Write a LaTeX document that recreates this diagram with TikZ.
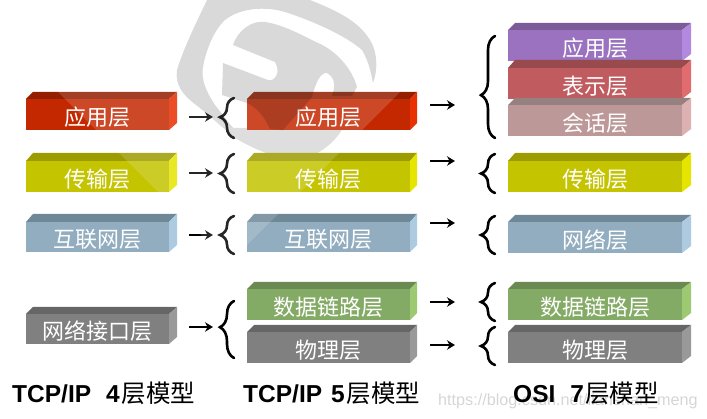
\documentclass[tikz,border=0pt]{standalone}
\usepackage{fontspec}
\setmainfont{Liberation Sans}
\newfontfamily\cjk{Noto Sans CJK SC}
\usetikzlibrary{arrows.meta,decorations.pathreplacing}
\definecolor{rF}{HTML}{C42800}\definecolor{rT}{HTML}{931E00}\definecolor{rS}{HTML}{E83000}
\definecolor{yF}{HTML}{C4C400}\definecolor{yT}{HTML}{9C9C00}\definecolor{yS}{HTML}{E5E500}
\definecolor{bF}{HTML}{92ADBF}\definecolor{bT}{HTML}{6F8898}\definecolor{bS}{HTML}{ACCBE0}
\definecolor{gF}{HTML}{808080}\definecolor{gT}{HTML}{666666}\definecolor{gS}{HTML}{999999}
\definecolor{nF}{HTML}{84AB65}\definecolor{nT}{HTML}{6A8A52}\definecolor{nS}{HTML}{9CC972}
\definecolor{pF}{HTML}{9A72BF}\definecolor{pT}{HTML}{7B5B98}\definecolor{pS}{HTML}{B388DF}
\definecolor{oF}{HTML}{C05C60}\definecolor{oT}{HTML}{994A4D}\definecolor{oS}{HTML}{E06C70}
\definecolor{kF}{HTML}{BD9899}\definecolor{kT}{HTML}{978080}\definecolor{kS}{HTML}{DDB1B2}
\definecolor{wmgrey}{HTML}{D9D9D9}
% #1 left #2 front right #3 right #4 top #5 front top #6 bottom #7 colour key #8 node name #9 text
\newcommand{\layerbox}[9]{%
  \fill[#7F] (#1,#5) rectangle (#2,#6);
  \fill[#7T] (#1,#5) -- (#1+7,#4) -- (#3,#4) -- (#2,#5) -- cycle;
  \fill[#7S] (#2,#5) -- (#3,#4) -- (#3,#6-7) -- (#2,#6) -- cycle;
  \coordinate (#8) at ({(#1+#2)/2},{(#5+#6)/2+2.5});
  \node[layertext] (#8t) at (#8) {#9};
}
\tikzset{
  layertext/.style={text=white,font=\cjk\fontsize{22}{22}\selectfont,inner sep=0pt},
  caption/.style={anchor=west,inner sep=0pt,font=\fontsize{24.5}{25}\selectfont},
  flowarrow/.style={line width=2.6pt,-{Stealth[length=8pt,width=9.5pt]}},
  bracket/.style={line width=2.6pt,line cap=round,decorate,decoration={brace,amplitude=14pt,aspect=#1}},
  bracket/.default=0.5
}
\begin{document}
\begin{tikzpicture}[x=1pt,y=-1pt]
\useasboundingbox (0,0) rectangle (707,419);
% lower band of the logo, on the white ground
\fill[wmgrey] (200,108) -- (233,128) -- (343,128)
   .. controls (335,142) and (320,155) .. (300,160)
   .. controls (280,160) and (255,150) .. (235,138) -- cycle;
% url mark
\node[anchor=west,inner sep=0pt,text=black!16,font=\fontsize{16.2}{16}\selectfont] (url) at (438,401) {https://blog.csdn.net/lianshan\_meng};
% column 1
\layerbox{26}{169}{177}{92}{99}{130}{r}{a1}{应用层}
\layerbox{26}{169}{177}{153}{161}{192}{y}{a2}{传输层}
\layerbox{26}{169}{177}{214}{222}{252}{b}{a3}{互联网层}
\layerbox{26}{169}{177}{307}{314}{344}{g}{a4}{网络接口层}
% column 2
\layerbox{247}{410}{417}{92}{99}{130}{r}{b1}{应用层}
\layerbox{247}{410}{417}{153}{161}{192}{y}{b2}{传输层}
\layerbox{247}{410}{417}{214}{222}{252}{b}{b3}{互联网层}
\layerbox{247}{410}{417}{282}{289}{320}{n}{b4}{数据链路层}
\layerbox{247}{410}{417}{325}{332}{363}{g}{b5}{物理层}
% column 3
\layerbox{508}{682}{691}{23}{30}{61}{p}{c1}{应用层}
\layerbox{508}{682}{691}{60}{68}{99}{o}{c2}{表示层}
\layerbox{508}{682}{691}{98}{105}{136}{k}{c3}{会话层}
\layerbox{508}{682}{691}{153}{161}{192}{y}{c4}{传输层}
\layerbox{508}{682}{691}{215}{222}{253}{b}{c5}{网络层}
\layerbox{508}{682}{691}{282}{289}{320}{n}{c6}{数据链路层}
\layerbox{508}{682}{691}{325}{332}{363}{g}{c7}{物理层}
% arrows
\foreach \n/\xa/\xb/\y in {p/189/213/117,q/189/213/173,r/189/213/235,s/189/213/327,
   t/430/455/105,u/430/455/161,v/430/455/223,w/430/455/302,z/430/455/345}{
  \coordinate (\n a) at (\xa,\y);
  \coordinate (\n b) at (\xb,\y);
  \draw[flowarrow] (\n a) -- (\n b);
}
% braces (drawn bottom to top, so the tip points left)
\foreach \n/\x/\yb/\yt/\asp in {d/234/138/98/0.52,e/234/193/154/0.5,f/234/254/216/0.5,g/234/358/301/0.54,
   h/495/138/36/0.42,i/495/193/154/0.5,j/495/254/216/0.5,k/495/321/283/0.5,l/495/365/327/0.5}{
  \coordinate (\n a) at (\x,\yb);
  \coordinate (\n b) at (\x,\yt);
  \draw[bracket=\asp] (\n a) -- (\n b);
}
% captions
\node[caption] (cap1) at (12,393) {\textbf{TCP/IP\hspace{15pt}4}\hspace{2pt}{\cjk 层模型}};
\node[caption] (cap2) at (243,393) {\textbf{TCP/IP\hspace{9pt}5}\hspace{2pt}{\cjk 层模型}};
\node[caption] (cap3) at (513,393) {\textbf{OSI\hspace{15pt}7}\hspace{1pt}{\cjk 层模型}};
% translucent sheen and logo mark laid over the whole picture
\begin{scope}
\clip (0,0) rectangle (707,419);
\fill[white,opacity=0.15] (229,263) -- (492,0) -- (-34,0) -- cycle;
% outer band, top and left
\fill[black,opacity=0.15] (305,-2) -- (208,-2) .. controls (195,25) and (183,50) .. (177,70)
   .. controls (175,85) and (182,95) .. (200,108)
   -- (233,128) -- (215,105)
   .. controls (205,90) and (201,78) .. (203,67)
   .. controls (206,50) and (214,30) .. (225,20)
   .. controls (240,8) and (265,6) .. (285,12)
   .. controls (310,20) and (345,35) .. (362,50)
   .. controls (368,60) and (371,72) .. (373,83)
   .. controls (378,70) and (378,50) .. (368,37)
   .. controls (355,18) and (330,8) .. (305,-2) -- cycle;
% inner body
\fill[black,opacity=0.15] (233,45) .. controls (238,30) and (252,20) .. (265,22)
   .. controls (285,25) and (305,37) .. (318,43)
   .. controls (335,50) and (352,68) .. (357,87)
   -- (352,96) -- (332,96)
   .. controls (335,88) and (336,78) .. (327,73)
   .. controls (320,72) and (315,85) .. (312,97)
   -- (283,130) -- (270,129)
   .. controls (265,118) and (258,108) .. (247,103)
   -- (222,95) -- (223,63) -- (268,80)
   .. controls (275,82) and (281,72) .. (275,62) -- cycle;
\end{scope}
\end{tikzpicture}
\end{document}
